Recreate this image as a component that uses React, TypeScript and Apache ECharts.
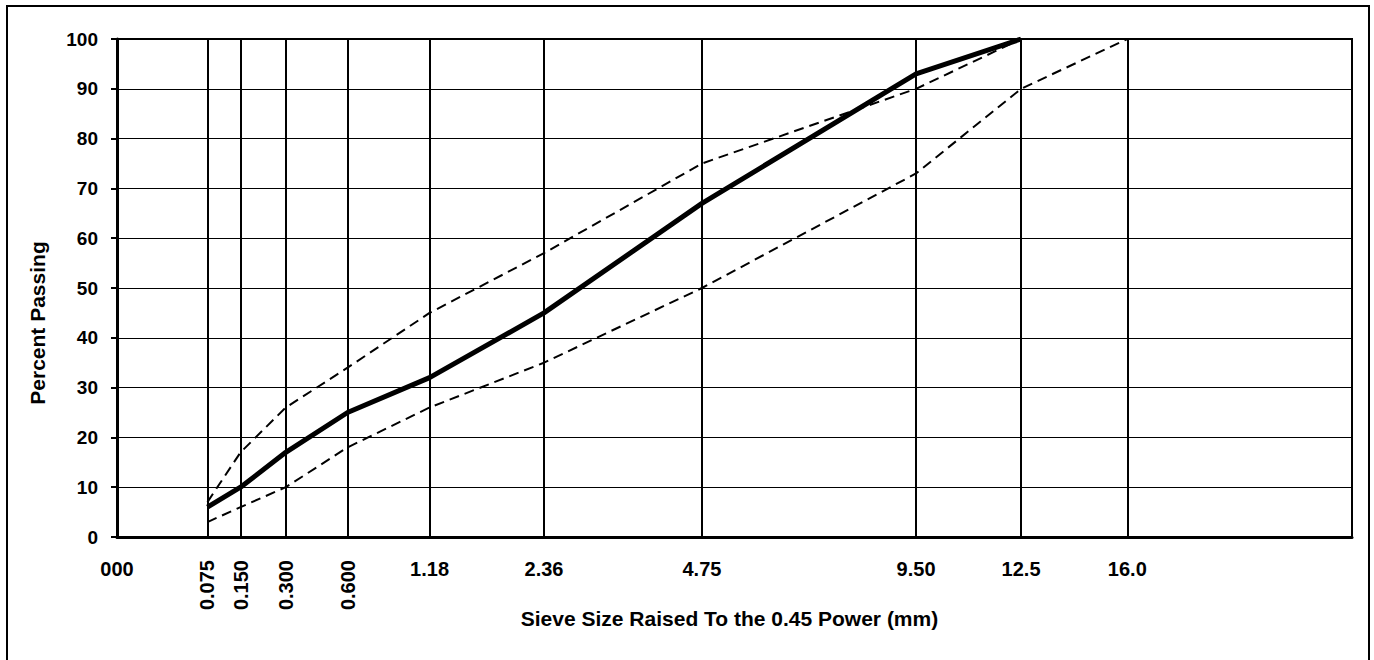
import React, { useEffect, useRef } from "react";
import * as echarts from "echarts";

// Sieve sizes (mm) and their axis labels
const sieveSizes = [0.075, 0.15, 0.3, 0.6, 1.18, 2.36, 4.75, 9.5, 12.5, 16.0];
const sieveLabels = ["0.075", "0.150", "0.300", "0.600", "1.18", "2.36", "4.75", "9.50", "12.5", "16.0"];
const rotatedLabelSizes = [0.075, 0.15, 0.3, 0.6];
const flatLabelSizes = [0, 1.18, 2.36, 4.75, 9.5, 12.5, 16.0];
const zeroLabel = "000";

// Percent passing (null = not plotted at that sieve)
const blendPassing = [6, 10, 17, 25, 32, 45, 67, 93, 100, null];
const upperLimit = [7, 17, 26, 34, 45, 57, 75, 90, 100, null];
const lowerLimit = [3, 6, 10, 18, 26, 35, 50, 73, 90, 100];

const POWER = 0.45;
const maxSieve = 25;
const yTicks = [0, 10, 20, 30, 40, 50, 60, 70, 80, 90, 100];

const FONT = "Arial, 'Liberation Sans', Helvetica, sans-serif";
const px = (s: number) => Math.pow(s, POWER);

const labelFor = (v: number) => {
  if (Math.abs(v) < 1e-9) return zeroLabel;
  for (let i = 0; i < sieveSizes.length; i++) {
    if (Math.abs(px(sieveSizes[i]) - v) < 1e-6) return sieveLabels[i];
  }
  return "";
};

export default function App() {
  const ref = useRef<HTMLDivElement>(null);
  useEffect(() => {
    if (!ref.current) return;
    const chart = echarts.init(ref.current, null, { renderer: "svg" });
    const pairs = (vals: (number | null)[]) =>
      sieveSizes
        .map((s, i) => (vals[i] === null ? null : [px(s), vals[i]]))
        .filter((p) => p !== null);
    const xMax = px(maxSieve);
    const option: any = {
      animation: false,
      backgroundColor: "#ffffff",
      grid: {
        left: 117,
        top: 39,
        right: 22,
        bottom: 123,
        containLabel: false,
        outerBoundsMode: "none",
        show: true,
        borderColor: "#000",
        borderWidth: 2,
        backgroundColor: "transparent",
      },
      xAxis: [
        {
          type: "value",
          min: 0,
          max: xMax,
          position: "bottom",
          axisLine: { show: true, onZero: false, lineStyle: { color: "#000", width: 3 } },
          axisTick: { show: false },
          splitLine: { show: false },
          axisLabel: {
            show: true,
            customValues: flatLabelSizes.map(px),
            formatter: (v: number) => labelFor(v),
            color: "#000",
            fontWeight: "bold",
            fontSize: 20,
            fontFamily: FONT,
            margin: 22,
            hideOverlap: false,
            showMinLabel: true,
            showMaxLabel: true,
          },
          name: "Sieve Size Raised To the 0.45 Power (mm)",
          nameLocation: "middle",
          nameGap: 71,
          nameTextStyle: {
            color: "#000",
            fontWeight: "bold",
            fontSize: 21,
            fontFamily: FONT,
            padding: [0, 10, 0, 0],
          },
        },
        {
          type: "value",
          min: 0,
          max: xMax,
          position: "bottom",
          axisLine: { show: false },
          axisTick: { show: false },
          splitLine: { show: false },
          axisLabel: {
            show: true,
            customValues: rotatedLabelSizes.map(px),
            formatter: (v: number) => labelFor(v),
            rotate: 90,
            color: "#000",
            fontWeight: "bold",
            fontSize: 20,
            fontFamily: FONT,
            margin: 23,
            hideOverlap: false,
            showMinLabel: true,
            showMaxLabel: true,
          },
        },
      ],
      yAxis: {
        type: "value",
        min: 0,
        max: 100,
        interval: 10,
        axisLine: { show: true, onZero: false, lineStyle: { color: "#000", width: 3 } },
        axisTick: { show: true, inside: false, length: 6, lineStyle: { color: "#000", width: 2 } },
        splitLine: { show: true, lineStyle: { color: "#000", width: 1 } },
        axisLabel: {
          color: "#000",
          fontWeight: "bold",
          fontSize: 19,
          fontFamily: FONT,
          margin: 19,
          formatter: (v: number) => (yTicks.includes(v) ? String(v) : ""),
        },
      },
      graphic: [
        {
          type: "rect",
          shape: { x: 7, y: 6, width: 1362, height: 700 },
          style: { fill: "none", stroke: "#000", lineWidth: 2 },
          silent: true,
          z: 100,
        },
        {
          type: "text",
          x: 37,
          y: 323,
          rotation: Math.PI / 2,
          style: {
            text: "Percent Passing",
            fill: "#000",
            font: `bold 21px ${FONT}`,
            align: "center",
            verticalAlign: "middle",
          },
          silent: true,
        },
      ],
      series: [
        {
          name: "Sieves",
          type: "line",
          data: [],
          z: 1,
          markLine: {
            silent: true,
            symbol: ["none", "none"],
            label: { show: false },
            lineStyle: { color: "#000", width: 2, type: "solid" },
            data: sieveSizes.map((s) => [
              { coord: [px(s), 0] },
              { coord: [px(s), 100] },
            ]),
          },
        },
        {
          name: "Lower",
          type: "line",
          data: pairs(lowerLimit),
          symbol: "none",
          z: 3,
          lineStyle: { color: "#000", width: 2, type: [10, 6] },
        },
        {
          name: "Upper",
          type: "line",
          data: pairs(upperLimit),
          symbol: "none",
          z: 3,
          lineStyle: { color: "#000", width: 2, type: [10, 6] },
        },
        {
          name: "Blend",
          type: "line",
          data: pairs(blendPassing),
          symbol: "none",
          z: 4,
          lineStyle: { color: "#000", width: 5, type: "solid" },
        },
      ],
    };
    chart.setOption(option);
    return () => chart.dispose();
  }, []);
  return (
    <div
      ref={ref}
      style={{ position: "absolute", left: 0, top: 0, width: 1374, height: 660 }}
    />
  );
}
